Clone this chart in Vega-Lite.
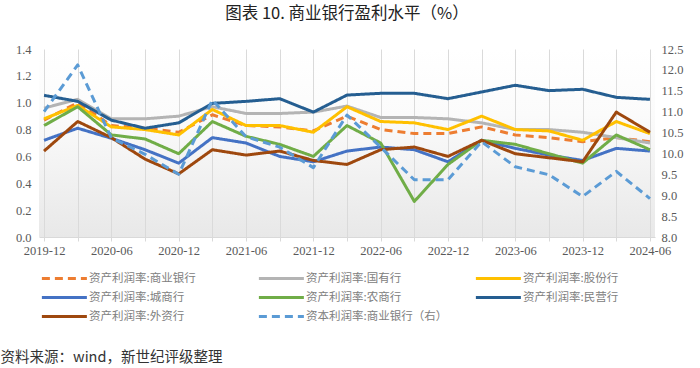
{
"$schema":"https://vega.github.io/schema/vega-lite/v6.json",
"width":616,"height":188,
"autosize":{"type":"none"},
"padding":{"left":39,"top":49,"right":45,"bottom":131},
"background":"#ffffff",
"title":{"text":"图表 10.  商业银行盈利水平（%）","font":"Noto Sans CJK SC","fontSize":16.5,"fontWeight":"normal","color":"#222222","anchor":"middle","offset":21},
"config":{
 "view":{"stroke":null,"fill":{"gradient":"linear","x1":0,"y1":0,"x2":0,"y2":1,"stops":[{"offset":0,"color":"#ffffff"},{"offset":0.35,"color":"#fbfbfb"},{"offset":1,"color":"#e8e8e8"}]}},
 "axis":{"labelFont":"Liberation Serif","labelFontSize":12.5,"labelColor":"#595959","titleFont":"Noto Sans CJK SC"},
 "line":{"strokeWidth":3,"strokeCap":"butt","strokeJoin":"round"}
},
"data":{"values":[
{"q":"2019-12","s":"资产利润率:商业银行","v":0.87},{"q":"2020-03","s":"资产利润率:商业银行","v":1.00},{"q":"2020-06","s":"资产利润率:商业银行","v":0.83},{"q":"2020-09","s":"资产利润率:商业银行","v":0.81},{"q":"2020-12","s":"资产利润率:商业银行","v":0.78},{"q":"2021-03","s":"资产利润率:商业银行","v":0.91},{"q":"2021-06","s":"资产利润率:商业银行","v":0.83},{"q":"2021-09","s":"资产利润率:商业银行","v":0.82},{"q":"2021-12","s":"资产利润率:商业银行","v":0.79},{"q":"2022-03","s":"资产利润率:商业银行","v":0.90},{"q":"2022-06","s":"资产利润率:商业银行","v":0.80},{"q":"2022-09","s":"资产利润率:商业银行","v":0.77},{"q":"2022-12","s":"资产利润率:商业银行","v":0.77},{"q":"2023-03","s":"资产利润率:商业银行","v":0.82},{"q":"2023-06","s":"资产利润率:商业银行","v":0.76},{"q":"2023-09","s":"资产利润率:商业银行","v":0.74},{"q":"2023-12","s":"资产利润率:商业银行","v":0.71},{"q":"2024-03","s":"资产利润率:商业银行","v":0.74},{"q":"2024-06","s":"资产利润率:商业银行","v":0.71},
{"q":"2019-12","s":"资产利润率:国有行","v":0.96},{"q":"2020-03","s":"资产利润率:国有行","v":1.025},{"q":"2020-06","s":"资产利润率:国有行","v":0.88},{"q":"2020-09","s":"资产利润率:国有行","v":0.88},{"q":"2020-12","s":"资产利润率:国有行","v":0.90},{"q":"2021-03","s":"资产利润率:国有行","v":0.97},{"q":"2021-06","s":"资产利润率:国有行","v":0.92},{"q":"2021-09","s":"资产利润率:国有行","v":0.92},{"q":"2021-12","s":"资产利润率:国有行","v":0.93},{"q":"2022-03","s":"资产利润率:国有行","v":0.975},{"q":"2022-06","s":"资产利润率:国有行","v":0.89},{"q":"2022-09","s":"资产利润率:国有行","v":0.89},{"q":"2022-12","s":"资产利润率:国有行","v":0.88},{"q":"2023-03","s":"资产利润率:国有行","v":0.85},{"q":"2023-06","s":"资产利润率:国有行","v":0.80},{"q":"2023-09","s":"资产利润率:国有行","v":0.80},{"q":"2023-12","s":"资产利润率:国有行","v":0.78},{"q":"2024-03","s":"资产利润率:国有行","v":0.74},{"q":"2024-06","s":"资产利润率:国有行","v":0.70},
{"q":"2019-12","s":"资产利润率:股份行","v":0.88},{"q":"2020-03","s":"资产利润率:股份行","v":0.98},{"q":"2020-06","s":"资产利润率:股份行","v":0.82},{"q":"2020-09","s":"资产利润率:股份行","v":0.80},{"q":"2020-12","s":"资产利润率:股份行","v":0.76},{"q":"2021-03","s":"资产利润率:股份行","v":0.95},{"q":"2021-06","s":"资产利润率:股份行","v":0.83},{"q":"2021-09","s":"资产利润率:股份行","v":0.83},{"q":"2021-12","s":"资产利润率:股份行","v":0.78},{"q":"2022-03","s":"资产利润率:股份行","v":0.97},{"q":"2022-06","s":"资产利润率:股份行","v":0.86},{"q":"2022-09","s":"资产利润率:股份行","v":0.85},{"q":"2022-12","s":"资产利润率:股份行","v":0.80},{"q":"2023-03","s":"资产利润率:股份行","v":0.90},{"q":"2023-06","s":"资产利润率:股份行","v":0.80},{"q":"2023-09","s":"资产利润率:股份行","v":0.79},{"q":"2023-12","s":"资产利润率:股份行","v":0.72},{"q":"2024-03","s":"资产利润率:股份行","v":0.86},{"q":"2024-06","s":"资产利润率:股份行","v":0.77},
{"q":"2019-12","s":"资产利润率:城商行","v":0.72},{"q":"2020-03","s":"资产利润率:城商行","v":0.81},{"q":"2020-06","s":"资产利润率:城商行","v":0.735},{"q":"2020-09","s":"资产利润率:城商行","v":0.65},{"q":"2020-12","s":"资产利润率:城商行","v":0.55},{"q":"2021-03","s":"资产利润率:城商行","v":0.74},{"q":"2021-06","s":"资产利润率:城商行","v":0.70},{"q":"2021-09","s":"资产利润率:城商行","v":0.60},{"q":"2021-12","s":"资产利润率:城商行","v":0.56},{"q":"2022-03","s":"资产利润率:城商行","v":0.64},{"q":"2022-06","s":"资产利润率:城商行","v":0.67},{"q":"2022-09","s":"资产利润率:城商行","v":0.65},{"q":"2022-12","s":"资产利润率:城商行","v":0.56},{"q":"2023-03","s":"资产利润率:城商行","v":0.72},{"q":"2023-06","s":"资产利润率:城商行","v":0.66},{"q":"2023-09","s":"资产利润率:城商行","v":0.61},{"q":"2023-12","s":"资产利润率:城商行","v":0.57},{"q":"2024-03","s":"资产利润率:城商行","v":0.66},{"q":"2024-06","s":"资产利润率:城商行","v":0.64},
{"q":"2019-12","s":"资产利润率:农商行","v":0.83},{"q":"2020-03","s":"资产利润率:农商行","v":0.97},{"q":"2020-06","s":"资产利润率:农商行","v":0.76},{"q":"2020-09","s":"资产利润率:农商行","v":0.73},{"q":"2020-12","s":"资产利润率:农商行","v":0.62},{"q":"2021-03","s":"资产利润率:农商行","v":0.86},{"q":"2021-06","s":"资产利润率:农商行","v":0.75},{"q":"2021-09","s":"资产利润率:农商行","v":0.69},{"q":"2021-12","s":"资产利润率:农商行","v":0.60},{"q":"2022-03","s":"资产利润率:农商行","v":0.83},{"q":"2022-06","s":"资产利润率:农商行","v":0.70},{"q":"2022-09","s":"资产利润率:农商行","v":0.265},{"q":"2022-12","s":"资产利润率:农商行","v":0.54},{"q":"2023-03","s":"资产利润率:农商行","v":0.72},{"q":"2023-06","s":"资产利润率:农商行","v":0.69},{"q":"2023-09","s":"资产利润率:农商行","v":0.62},{"q":"2023-12","s":"资产利润率:农商行","v":0.55},{"q":"2024-03","s":"资产利润率:农商行","v":0.76},{"q":"2024-06","s":"资产利润率:农商行","v":0.65},
{"q":"2019-12","s":"资产利润率:民营行","v":1.055},{"q":"2020-03","s":"资产利润率:民营行","v":1.01},{"q":"2020-06","s":"资产利润率:民营行","v":0.87},{"q":"2020-09","s":"资产利润率:民营行","v":0.81},{"q":"2020-12","s":"资产利润率:民营行","v":0.85},{"q":"2021-03","s":"资产利润率:民营行","v":0.995},{"q":"2021-06","s":"资产利润率:民营行","v":1.01},{"q":"2021-09","s":"资产利润率:民营行","v":1.03},{"q":"2021-12","s":"资产利润率:民营行","v":0.93},{"q":"2022-03","s":"资产利润率:民营行","v":1.057},{"q":"2022-06","s":"资产利润率:民营行","v":1.07},{"q":"2022-09","s":"资产利润率:民营行","v":1.07},{"q":"2022-12","s":"资产利润率:民营行","v":1.03},{"q":"2023-03","s":"资产利润率:民营行","v":1.08},{"q":"2023-06","s":"资产利润率:民营行","v":1.13},{"q":"2023-09","s":"资产利润率:民营行","v":1.09},{"q":"2023-12","s":"资产利润率:民营行","v":1.10},{"q":"2024-03","s":"资产利润率:民营行","v":1.04},{"q":"2024-06","s":"资产利润率:民营行","v":1.025},
{"q":"2019-12","s":"资产利润率:外资行","v":0.64},{"q":"2020-03","s":"资产利润率:外资行","v":0.86},{"q":"2020-06","s":"资产利润率:外资行","v":0.74},{"q":"2020-09","s":"资产利润率:外资行","v":0.58},{"q":"2020-12","s":"资产利润率:外资行","v":0.47},{"q":"2021-03","s":"资产利润率:外资行","v":0.65},{"q":"2021-06","s":"资产利润率:外资行","v":0.61},{"q":"2021-09","s":"资产利润率:外资行","v":0.64},{"q":"2021-12","s":"资产利润率:外资行","v":0.57},{"q":"2022-03","s":"资产利润率:外资行","v":0.54},{"q":"2022-06","s":"资产利润率:外资行","v":0.65},{"q":"2022-09","s":"资产利润率:外资行","v":0.67},{"q":"2022-12","s":"资产利润率:外资行","v":0.60},{"q":"2023-03","s":"资产利润率:外资行","v":0.72},{"q":"2023-06","s":"资产利润率:外资行","v":0.62},{"q":"2023-09","s":"资产利润率:外资行","v":0.59},{"q":"2023-12","s":"资产利润率:外资行","v":0.56},{"q":"2024-03","s":"资产利润率:外资行","v":0.93},{"q":"2024-06","s":"资产利润率:外资行","v":0.78},
{"q":"2019-12","s":"资本利润率:商业银行（右）","v":11.0},{"q":"2020-03","s":"资本利润率:商业银行（右）","v":12.12},{"q":"2020-06","s":"资本利润率:商业银行（右）","v":10.37},{"q":"2020-09","s":"资本利润率:商业银行（右）","v":9.98},{"q":"2020-12","s":"资本利润率:商业银行（右）","v":9.5},{"q":"2021-03","s":"资本利润率:商业银行（右）","v":11.28},{"q":"2021-06","s":"资本利润率:商业银行（右）","v":10.4},{"q":"2021-09","s":"资本利润率:商业银行（右）","v":10.15},{"q":"2021-12","s":"资本利润率:商业银行（右）","v":9.66},{"q":"2022-03","s":"资本利润率:商业银行（右）","v":10.92},{"q":"2022-06","s":"资本利润率:商业银行（右）","v":10.15},{"q":"2022-09","s":"资本利润率:商业银行（右）","v":9.37},{"q":"2022-12","s":"资本利润率:商业银行（右）","v":9.37},{"q":"2023-03","s":"资本利润率:商业银行（右）","v":10.28},{"q":"2023-06","s":"资本利润率:商业银行（右）","v":9.68},{"q":"2023-09","s":"资本利润率:商业银行（右）","v":9.49},{"q":"2023-12","s":"资本利润率:商业银行（右）","v":8.97},{"q":"2024-03","s":"资本利润率:商业银行（右）","v":9.57},{"q":"2024-06","s":"资本利润率:商业银行（右）","v":8.92}
]},
"encoding":{
 "x":{"field":"q","type":"ordinal","sort":null,"scale":{"type":"point","padding":0.15},
  "axis":{"title":"资料来源：wind，新世纪评级整理","titleFont":"Noto Sans CJK SC","titleFontSize":14.5,"titleFontWeight":"normal","titleColor":"#333333","titleAnchor":"start","titleAlign":"left","titleBaseline":"middle","titleX":-39,"titleY":120,
   "labelAngle":0,"labelPadding":3,"tickSize":4,"tickColor":"#d9d9d9","domainColor":"#d9d9d9","grid":true,"gridColor":"#dadada","gridWidth":1,
   "labelExpr":"indexof(['2019-12','2020-06','2020-12','2021-06','2021-12','2022-06','2022-12','2023-06','2023-12','2024-06'], datum.value) >= 0 ? datum.value : ''"}},
 "color":{"field":"s","type":"nominal","scale":{"domain":["资产利润率:商业银行","资产利润率:城商行","资产利润率:外资行","资产利润率:国有行","资产利润率:农商行","资本利润率:商业银行（右）","资产利润率:股份行","资产利润率:民营行"],"range":["#ED7D31","#4472C4","#9E480E","#B4B4B4","#70AD47","#5B9BD5","#FFC000","#255E91"]},
  "legend":{"title":null,"orient":"none","legendX":1,"legendY":222,"columns":3,"gridAlign":"all","columnPadding":26,"rowPadding":6,"symbolType":"M-1,0H7","symbolSize":126.5625,"symbolStrokeWidth":3,"labelFont":"Noto Sans CJK SC","labelFontSize":11.5,"labelColor":"#808080","labelOffset":34,"labelLimit":300}},
 "strokeDash":{"field":"s","type":"nominal","scale":{"domain":["资产利润率:商业银行","资产利润率:城商行","资产利润率:外资行","资产利润率:国有行","资产利润率:农商行","资本利润率:商业银行（右）","资产利润率:股份行","资产利润率:民营行"],"range":[[8,5],[1,0],[1,0],[1,0],[1,0],[8,5],[1,0],[1,0]]},"legend":null}
},
"layer":[
 {"transform":[{"filter":"datum.s != '资本利润率:商业银行（右）'"}],
  "mark":{"type":"line"},
  "encoding":{"y":{"field":"v","type":"quantitative","scale":{"domain":[0,1.4],"nice":false},"axis":{"title":null,"orient":"left","values":[0,0.2,0.4,0.6,0.8,1.0,1.2,1.4],"format":".1f","domain":false,"ticks":false,"grid":false,"labelPadding":8}}}},
 {"transform":[{"filter":"datum.s == '资本利润率:商业银行（右）'"}],
  "mark":{"type":"line"},
  "encoding":{"y":{"field":"v","type":"quantitative","scale":{"domain":[8,12.5],"nice":false,"zero":false},"axis":{"title":null,"orient":"right","values":[8,8.5,9,9.5,10,10.5,11,11.5,12,12.5],"format":".1f","domain":false,"ticks":false,"grid":false,"labelPadding":6}}}}
],
"resolve":{"scale":{"y":"independent"}}
}
